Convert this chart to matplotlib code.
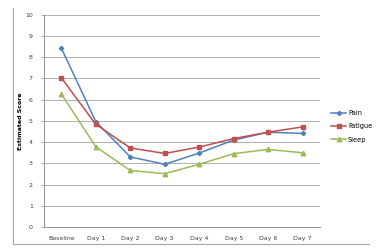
import matplotlib.pyplot as plt
from matplotlib.lines import Line2D

plt.rcParams['font.family'] = 'DejaVu Sans'
plt.rcParams['font.size'] = 4.5

# data
days = ['Baseline', 'Day 1', 'Day 2', 'Day 3', 'Day 4', 'Day 5', 'Day 6', 'Day 7']
pain = [8.43, 4.97, 3.31, 2.96, 3.49, 4.1, 4.47, 4.41]
fatigue = [7.03, 4.84, 3.73, 3.47, 3.77, 4.17, 4.47, 4.72]
sleep = [6.27, 3.79, 2.67, 2.52, 2.96, 3.46, 3.66, 3.5]

fig = plt.figure(figsize=(3.78, 2.48), dpi=100)
ax = fig.add_axes([0.1164, 0.0835, 0.730, 0.858])

# partial chart frame: left and bottom edges only
W, H = 378, 248
fig.lines.append(Line2D([13 / W, 13 / W], [1 - 8 / H, 1 - 244 / H], transform=fig.transFigure,
                        color='#a8a8a8', linewidth=0.8))
fig.lines.append(Line2D([13 / W, 369 / W], [1 - 244 / H, 1 - 244 / H], transform=fig.transFigure,
                        color='#a8a8a8', linewidth=0.8))

x = range(len(days))
ax.plot(x, pain, color='#4F81BD', marker='D', markersize=2.2, linewidth=1.1, label='Pain')
ax.plot(x, fatigue, color='#C0504D', marker='s', markersize=3.2, linewidth=1.1, label='Fatigue')
ax.plot(x, sleep, color='#9BBB59', marker='^', markersize=3.2, linewidth=1.1, label='Sleep')

ax.set_xlim(-0.5, len(days) - 0.5)
ax.set_ylim(0, 10)
ax.set_yticks(range(0, 11))
ax.set_xticks(list(x))
ax.set_xticklabels(days)
ax.yaxis.grid(True, color='#b0b0b0', linewidth=0.7)
ax.set_axisbelow(True)
for s in ['top', 'right']:
    ax.spines[s].set_visible(False)
for s in ['left', 'bottom']:
    ax.spines[s].set_color('#909090')
    ax.spines[s].set_linewidth(0.7)
ax.tick_params(axis='both', length=2, width=0.5, color='#909090', pad=6, labelcolor='#404040')
ax.tick_params(axis='x', length=0)

ax.set_ylabel('Estimated Score', fontweight='bold', fontsize=4.5, labelpad=1.5)

ax.legend(loc='center left', bbox_to_anchor=(1.02, 0.475), frameon=False,
          handlelength=2.2, handletextpad=0.3, labelspacing=1.1, fontsize=4.8)

fig.savefig('out.png', dpi=100)
